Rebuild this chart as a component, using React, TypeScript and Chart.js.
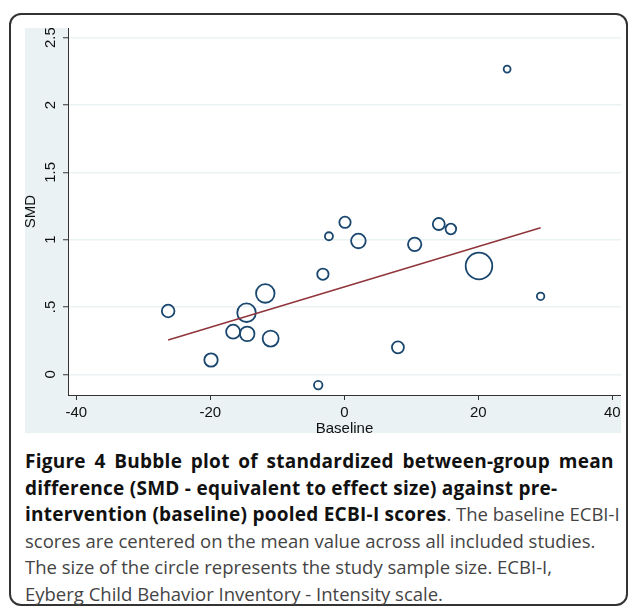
import React, { useEffect, useRef } from "react";
import { Chart, registerables } from "chart.js";

Chart.register(...registerables);

// ---- data ----
const baseline = [-26.3, -19.9, -16.6, -14.6, -14.5, -11.8, -11.0, -3.9, -3.2, -2.3, 0.1, 2.1, 8.0, 10.5, 14.1, 15.9, 20.1, 24.3, 29.3];
const smd = [0.47, 0.106, 0.316, 0.457, 0.3, 0.6, 0.265, -0.08, 0.743, 1.025, 1.129, 0.99, 0.2, 0.965, 1.116, 1.079, 0.804, 2.267, 0.579];
const sampleWeight = [40, 45, 49, 86, 53, 86, 64, 18, 32, 16, 32, 53, 36, 45, 36, 28, 177, 12, 14];

const fitX = [-26.3, 29.3];
const fitY = [0.255, 1.089];

const xTicks = [-40, -20, 0, 20, 40];
const yTicks = [0, 0.5, 1, 1.5, 2, 2.5];
const yTickLabels = ["0", ".5", "1", "1.5", "2", "2.5"];

const xRange = [-41.25, 41.3];
const yRange = [-0.154, 2.572];

const AXIS_FONT = "'Liberation Sans', Arial, Helvetica, sans-serif";
const CAPTION_FONT = "'Open Sans', 'Noto Sans', sans-serif";

const plotBackground = {
  id: "plotBackground",
  beforeDraw(chart: any) {
    const { ctx, chartArea } = chart;
    ctx.save();
    ctx.fillStyle = "#ffffff";
    ctx.fillRect(chartArea.left, chartArea.top, chartArea.right - chartArea.left, chartArea.bottom - chartArea.top);
    ctx.restore();
  },
};

export default function App() {
  const canvasRef = useRef<HTMLCanvasElement>(null);

  useEffect(() => {
    const chart = new Chart(canvasRef.current as HTMLCanvasElement, {
      type: "bubble",
      data: {
        datasets: [
          {
            type: "line",
            data: fitX.map((x, i) => ({ x, y: fitY[i] })),
            borderColor: "#90353b",
            borderWidth: 1.6,
            pointRadius: 0,
            fill: false,
            tension: 0,
            order: 0,
          } as any,
          {
            type: "bubble",
            data: baseline.map((x, i) => ({ x, y: smd[i], r: Math.sqrt(sampleWeight[i]) })),
            backgroundColor: "rgba(0,0,0,0)",
            borderColor: "#1a476f",
            borderWidth: 1.8,
            order: 1,
          } as any,
        ],
      },
      options: {
        animation: false,
        responsive: false,
        maintainAspectRatio: false,
        layout: { padding: 0, autoPadding: false },
        events: [],
        plugins: {
          legend: { display: false },
          tooltip: { enabled: false },
        },
        scales: {
          x: {
            type: "linear",
            min: xRange[0],
            max: xRange[1],
            afterBuildTicks: (s: any) => {
              s.ticks = xTicks.map((v) => ({ value: v }));
            },
            afterFit: (s: any) => {
              s.height = 45;
              s.paddingLeft = 0;
              s.paddingRight = 0;
            },
            ticks: {
              autoSkip: false,
              maxRotation: 0,
              minRotation: 0,
              padding: 4,
              color: "#111",
              font: { family: AXIS_FONT, size: 15 },
              callback: (v: any) => String(v),
            },
            grid: {
              drawOnChartArea: false,
              drawTicks: true,
              tickLength: 5,
              tickColor: "#333",
              tickWidth: 1,
            },
            border: { display: true, color: "#333", width: 1 },
            title: {
              display: true,
              text: "Baseline",
              color: "#111",
              font: { family: AXIS_FONT, size: 15 },
              padding: { top: 0, bottom: 2 },
            },
          },
          y: {
            type: "linear",
            min: yRange[0],
            max: yRange[1],
            afterBuildTicks: (s: any) => {
              s.ticks = yTicks.map((v) => ({ value: v }));
            },
            afterFit: (s: any) => {
              s.width = 51;
              s.paddingTop = 0;
              s.paddingBottom = 0;
            },
            ticks: {
              autoSkip: false,
              minRotation: 90,
              maxRotation: 90,
              crossAlign: "center",
              padding: 2,
              color: "#111",
              font: { family: AXIS_FONT, size: 15 },
              callback: (_v: any, i: number) => yTickLabels[i] ?? "",
            },
            grid: {
              color: "#eaf2f3",
              lineWidth: 1.5,
              drawTicks: true,
              tickLength: 5,
              tickColor: "#333",
              tickWidth: 1,
            },
            border: { display: true, color: "#333", width: 1 },
            title: {
              display: true,
              text: "SMD",
              color: "#111",
              font: { family: AXIS_FONT, size: 15 },
              padding: { top: 5, bottom: 0 },
            },
          },
        },
      } as any,
      plugins: [plotBackground],
    });
    return () => chart.destroy();
  }, []);

  const bold: React.CSSProperties = { fontWeight: 700, color: "#111", fontSize: 19, letterSpacing: 0.25 };
  const line: React.CSSProperties = { whiteSpace: "nowrap", height: 26.6, lineHeight: "26.6px" };

  return (
    <div
      style={{
        position: "fixed",
        left: 0,
        top: 0,
        width: 629,
        height: 609,
        overflow: "hidden",
        background: "#ffffff",
      }}
    >
      <div
        style={{
          position: "absolute",
          left: 9,
          top: 13,
          width: 619,
          height: 593,
          border: "2px solid #333",
          borderRadius: 12,
          boxSizing: "border-box",
        }}
      />
      <div
        style={{
          position: "absolute",
          left: 25,
          top: 28,
          width: 596,
          height: 405,
          background: "#eaf2f3",
        }}
      />
      <canvas
        ref={canvasRef}
        width={604}
        height={412}
        style={{ position: "absolute", left: 17, top: 28, width: 604, height: 412 }}
      />
      <div
        style={{
          position: "absolute",
          left: 25,
          top: 448,
          width: 600,
          fontFamily: CAPTION_FONT,
          fontSize: 18.5,
          color: "#444",
        }}
      >
        <div style={line}>
          <span style={{ ...bold, wordSpacing: 3.5 }}>Figure 4 Bubble plot of standardized between-group mean</span>
        </div>
        <div style={line}>
          <span style={bold}>difference (SMD - equivalent to effect size) against pre-</span>
        </div>
        <div style={line}>
          <span style={bold}>intervention (baseline) pooled ECBI-I scores</span>. The baseline ECBI-I
        </div>
        <div style={line}>scores are centered on the mean value across all included studies.</div>
        <div style={line}>The size of the circle represents the study sample size. ECBI-I,</div>
        <div style={line}>Eyberg Child Behavior Inventory - Intensity scale.</div>
      </div>
    </div>
  );
}
